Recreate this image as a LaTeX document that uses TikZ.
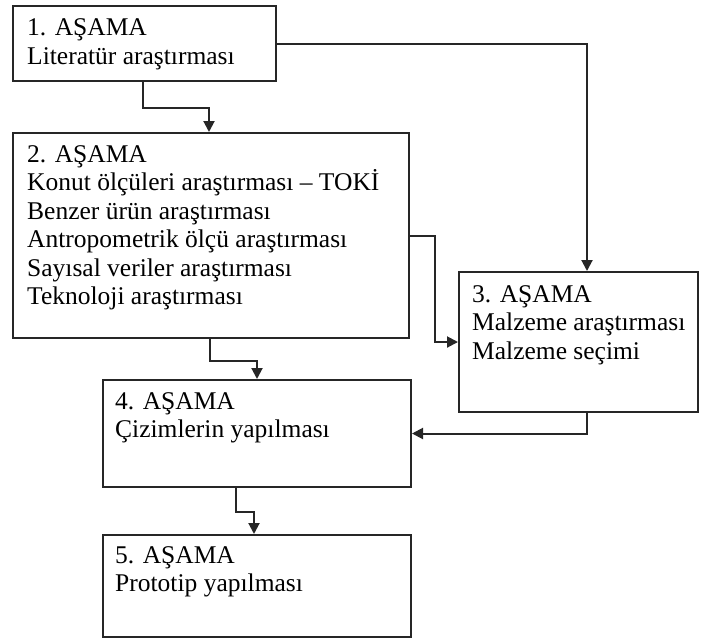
\documentclass[tikz,border=0pt]{standalone}
\usepackage{fontspec}
\setmainfont{Liberation Serif}
\usetikzlibrary{arrows.meta}
\begin{document}
\begin{tikzpicture}[x=1pt,y=-1pt,
  box/.style={draw=black!85,line width=2pt,rectangle,inner sep=0pt,anchor=north west},
  txt/.style={anchor=base west,inner sep=0pt,font=\fontsize{25.5}{28}\selectfont,text=black},
  arr/.style={draw=black!85,line width=2pt,-{Triangle[length=11pt,width=11pt]}}]
\useasboundingbox (0,0) rectangle (707,641);
\node[box,minimum width=263pt,minimum height=75pt] (b1) at (12,5) {};
\node[box,minimum width=396pt,minimum height=205pt] (b2) at (12,132) {};
\node[box,minimum width=239pt,minimum height=140pt] (b3) at (458,271) {};
\node[box,minimum width=308pt,minimum height=107pt] (b4) at (102,379) {};
\node[box,minimum width=308pt,minimum height=102pt] (b5) at (102,534) {};
\node[txt] (t1a) at (27,35) {1. AŞAMA};
\node[txt] (t1b) at (27,64) {Literatür araştırması};
\node[txt] (t2a) at (27,162) {2. AŞAMA};
\node[txt] (t2b) at (27,190.5) {Konut ölçüleri araştırması – TOKİ};
\node[txt] (t2c) at (27,219) {Benzer ürün araştırması};
\node[txt] (t2d) at (27,247.5) {Antropometrik ölçü araştırması};
\node[txt] (t2e) at (27,276) {Sayısal veriler araştırması};
\node[txt] (t2f) at (27,304.5) {Teknoloji araştırması};
\node[txt] (t3a) at (472,302) {3. AŞAMA};
\node[txt] (t3b) at (472,330.5) {Malzeme araştırması};
\node[txt] (t3c) at (472,359) {Malzeme seçimi};
\node[txt] (t4a) at (115,409) {4. AŞAMA};
\node[txt] (t4b) at (115,437.5) {Çizimlerin yapılması};
\node[txt] (t5a) at (115,563) {5. AŞAMA};
\node[txt] (t5b) at (115,591.5) {Prototip yapılması};
\draw[arr] ([xshift=131pt]b1.south west) -- ++(0,26) -| ([xshift=197pt]b2.north west);
\draw[arr] (b1.east) -| ([xshift=129pt]b3.north west);
\draw[arr] (b2.east) -- ++(25,0) |- (b3.west);
\draw[arr] ([xshift=198pt]b2.south west) -- ++(0,22) -| ([xshift=155pt]b4.north west);
\draw[arr] ([xshift=129pt]b3.south west) |- (b4.east);
\draw[arr] ([xshift=134pt]b4.south west) -- ++(0,24) -| ([xshift=152pt]b5.north west);
\end{tikzpicture}
\end{document}
